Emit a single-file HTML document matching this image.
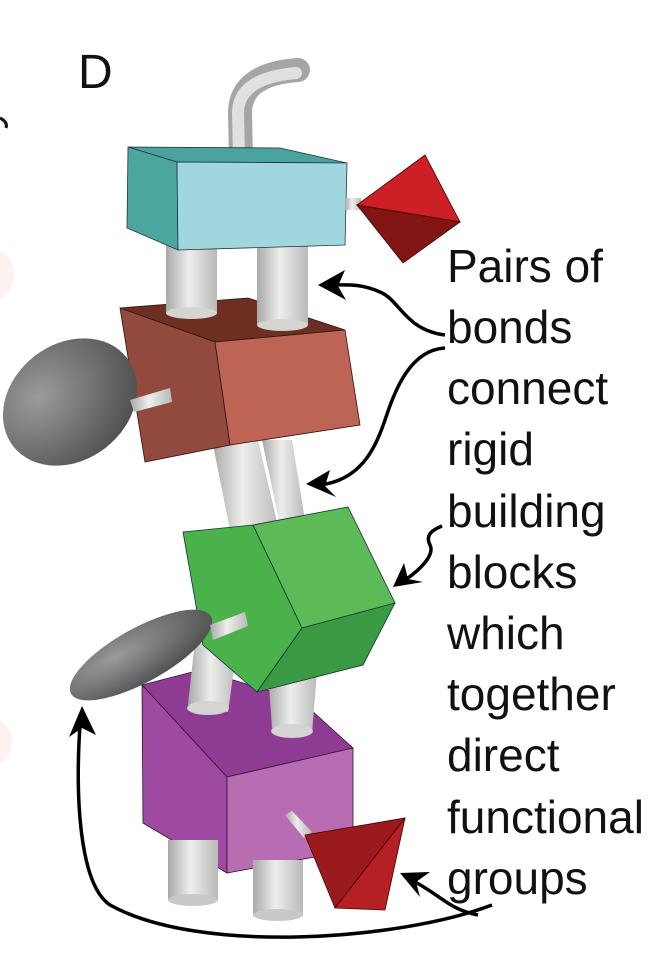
<!DOCTYPE html>
<html><head><style>
html,body{margin:0;padding:0;background:#fff;}
svg{display:block;}
text{font-family:"Liberation Sans",sans-serif;fill:#111;}
</style></head><body>
<svg width="665" height="971" viewBox="0 0 665 971" xmlns="http://www.w3.org/2000/svg">
<defs>
<linearGradient id="cyl" x1="0" x2="1" y1="0" y2="0">
<stop offset="0" stop-color="#a8aaa8"/><stop offset="0.45" stop-color="#eeeeec"/><stop offset="1" stop-color="#b8bab8"/>
</linearGradient>
<radialGradient id="ell" cx="0.35" cy="0.3" r="0.8">
<stop offset="0" stop-color="#9a9c9c"/><stop offset="0.6" stop-color="#6a6c6c"/><stop offset="1" stop-color="#4a4c4c"/>
</radialGradient>
</defs>
<circle cx="-14" cy="275" r="28" fill="#fdf1f1"/>
<circle cx="-14" cy="742" r="26" fill="#fdf1f1"/>
<path d="M0 118 Q8 122 6 128" stroke="#111" stroke-width="3" fill="none"/>
<text x="78" y="88" font-size="48">D</text>

<!-- top tube -->
<path d="M241 158 L240 112 Q241 74 298 70" stroke="#a4a6a4" stroke-width="24" fill="none" stroke-linecap="round"/>
<path d="M239 158 L238 112 Q239 78 296 73" stroke="#e0e0de" stroke-width="12" fill="none" stroke-linecap="round"/>

<!-- brown top face -->
<polygon points="120,308 248,298 345,330 215,342" fill="#6c2f22" stroke="#311" stroke-width="0.8"/>
<!-- cylinders cyan->brown -->
<rect x="166" y="245" width="51" height="68" fill="url(#cyl)"/>
<ellipse cx="191.5" cy="313" rx="25.5" ry="6" fill="#d4d4d2"/>
<rect x="257" y="245" width="51" height="80" fill="url(#cyl)"/>
<ellipse cx="282.5" cy="325" rx="25.5" ry="6" fill="#d4d4d2"/>

<!-- cyan box -->
<polygon points="128,147 280,148 347,163 177,162" fill="#4aa39d" stroke="#234" stroke-width="0.8"/>
<polygon points="128,147 177,162 178,250 127,228" fill="#4ba69f" stroke="#234" stroke-width="0.8"/>
<polygon points="177,162 347,163 345,245 178,250" fill="#a0d7df" stroke="#234" stroke-width="0.8"/>
<!-- octahedron -->
<rect x="345" y="198" width="16" height="12" fill="url(#cyl)"/>
<polygon points="357,205 425,155 460,222" fill="#cc1f26" stroke="#400" stroke-width="0.8"/>
<polygon points="357,205 460,222 403,263" fill="#821414" stroke="#400" stroke-width="0.8"/>

<!-- cylinders brown->green -->
<polygon points="212,440 258,440 280,535 232,540" fill="url(#cyl)"/>
<polygon points="262,440 292,440 305,520 280,525" fill="url(#cyl)"/>

<!-- brown box -->
<polygon points="120,308 215,342 230,445 145,462" fill="#92493e" stroke="#311" stroke-width="0.8"/>
<polygon points="215,342 345,330 360,425 230,445" fill="#bd6455" stroke="#311" stroke-width="0.8"/>
<!-- brown ellipse -->
<ellipse cx="70" cy="402" rx="72" ry="58" transform="rotate(-38 70 402)" fill="url(#ell)"/>
<polygon points="130,400 170,388 172,402 134,412" fill="url(#cyl)"/>

<!-- purple top -->
<polygon points="142,685 200,670 300,700 353,748 227,777" fill="#8e3c93" stroke="#313" stroke-width="0.8"/>
<!-- cylinders green->purple -->
<polygon points="195,640 238,640 228,712 188,705" fill="url(#cyl)"/>
<ellipse cx="208" cy="708" rx="21" ry="7" fill="#d4d4d2"/>
<polygon points="268,670 318,660 312,733 272,728" fill="url(#cyl)"/>
<ellipse cx="292" cy="731" rx="21" ry="7" fill="#d4d4d2"/>

<!-- purple faces -->
<polygon points="142,685 227,777 227,873 143,823" fill="#9d4aa0" stroke="#313" stroke-width="0.8"/>
<polygon points="227,777 353,748 353,850 227,873" fill="#b86db2" stroke="#313" stroke-width="0.8"/>

<!-- green box -->
<polygon points="183,532 253,525 302,628 257,692 203,645" fill="#4bb14b" stroke="#133" stroke-width="0.8"/>
<polygon points="253,525 348,507 395,603 302,628" fill="#5cbb56" stroke="#133" stroke-width="0.8"/>
<polygon points="302,628 395,603 363,665 257,692" fill="#3a9a44" stroke="#133" stroke-width="0.8"/>
<!-- green ellipse -->
<ellipse cx="141" cy="655" rx="80" ry="27" transform="rotate(-29 141 655)" fill="url(#ell)"/>
<polygon points="210,625 245,612 248,626 213,640" fill="url(#cyl)"/>

<!-- bottom cylinders -->
<rect x="168" y="840" width="50" height="60" fill="url(#cyl)"/>
<ellipse cx="193" cy="900" rx="25" ry="6" fill="#c8c8c6"/>
<rect x="253" y="860" width="50" height="55" fill="url(#cyl)"/>
<ellipse cx="278" cy="915" rx="25" ry="6" fill="#c8c8c6"/>

<!-- tetrahedron -->
<polygon points="285,815 292,811 312,832 304,838" fill="url(#cyl)"/>
<polygon points="305,835 405,818 335,908" fill="#9a1a1e" stroke="#400" stroke-width="0.8"/>
<polygon points="405,818 385,910 335,908" fill="#b52025" stroke="#400" stroke-width="0.8"/>

<!-- arrows -->
<g stroke="#000" stroke-width="3.5" fill="none">
<path d="M445 335 C405 330 400 300 380 292 C360 283 345 285 332 285"/>
<path d="M445 348 C410 350 395 390 385 420 C375 450 360 480 320 485"/>
<path d="M442 526 C432 530 425 535 430 545 C435 555 420 570 405 580"/>
<path d="M492 905 C400 940 200 955 110 905 C80 885 75 800 80 725"/>
<path d="M478 915 C450 910 440 895 415 882"/>
</g>
<g fill="#000">
<polygon points="318,285 345,270 338,286 346,300"/>
<polygon points="306,484 330,470 325,486 336,497"/>
<polygon points="393,587 404,563 408,579 423,582"/>
<polygon points="82,706 69,737 82,728 96,735"/>
<polygon points="400,873 430,872 416,882 420,897"/>
</g>

<g font-size="46">
<text x="447" y="282">Pairs of</text>
<text x="447" y="343">bonds</text>
<text x="447" y="404">connect</text>
<text x="447" y="465">rigid</text>
<text x="447" y="527">building</text>
<text x="447" y="588">blocks</text>
<text x="447" y="649">which</text>
<text x="447" y="710">together</text>
<text x="447" y="771">direct</text>
<text x="447" y="833">functional</text>
<text x="447" y="894">groups</text>
</g>
</svg>
</body></html>
